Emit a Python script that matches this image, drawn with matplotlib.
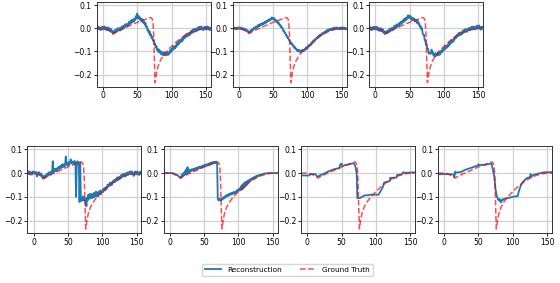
import numpy as np
import matplotlib
matplotlib.use('Agg')
from matplotlib import pyplot as plt

# ===== data =====
x_dense = np.arange(-9, 158)  # sample positions for the dense reconstructions

gt_x = [-9, 0, 5, 10, 15, 16, 20, 30, 40, 50, 60, 65, 68, 70, 71, 72, 73, 74, 75, 76,
        77, 78, 80, 83, 86, 90, 95, 100, 105, 110, 115, 120, 125, 130, 135, 140, 145, 150, 157]
gt_y = [0.0, 0.0, -0.003, -0.010, -0.019, -0.021, -0.014, 0.000, 0.013, 0.026,
        0.037, 0.042, 0.046, 0.046, 0.044, 0.038, 0.022, -0.030, -0.140, -0.235,
        -0.215, -0.195, -0.168, -0.143, -0.127, -0.110, -0.093, -0.078, -0.064, -0.051,
        -0.040, -0.030, -0.022, -0.015, -0.009, -0.005, -0.002, 0.0, 0.0]

rec_t1 = [0.006, -0.005, 0.008, -0.004, 0.005, -0.007, 0.003, -0.006, 0.007,
          0.006, -0.005, 0.008, -0.004, 0.005, -0.007, 0.003, -0.008, 0.004, -0.010,
          -0.001, -0.014, -0.003, -0.017, -0.011, -0.025, -0.013, -0.021, -0.006, -0.017,
          -0.004, -0.013, 0.001, -0.009, 0.001, -0.010, 0.002, -0.006, 0.009, -0.002,
          0.011, 0.002, 0.017, 0.007, 0.018, 0.008, 0.020, 0.013, 0.028, 0.018,
          0.031, 0.022, 0.037, 0.027, 0.039, 0.029, 0.042, 0.036, 0.053, 0.043,
          0.064, 0.043, 0.054, 0.040, 0.047, 0.033, 0.041, 0.029, 0.039, 0.024,
          0.031, 0.015, 0.023, 0.005, 0.008, -0.010, -0.006, -0.021, -0.013, -0.031,
          -0.026, -0.043, -0.036, -0.054, -0.051, -0.070, -0.067, -0.083, -0.077, -0.095,
          -0.089, -0.103, -0.092, -0.106, -0.099, -0.113, -0.105, -0.115, -0.103, -0.116,
          -0.106, -0.117, -0.104, -0.115, -0.105, -0.115, -0.103, -0.110, -0.094, -0.103,
          -0.089, -0.097, -0.081, -0.090, -0.078, -0.087, -0.074, -0.080, -0.064, -0.073,
          -0.059, -0.067, -0.051, -0.060, -0.048, -0.057, -0.044, -0.050, -0.034, -0.043,
          -0.029, -0.038, -0.023, -0.033, -0.022, -0.032, -0.020, -0.027, -0.012, -0.022,
          -0.009, -0.018, -0.003, -0.014, -0.003, -0.014, -0.002, -0.010, 0.004, -0.007,
          0.006, -0.005, 0.008, -0.004, 0.005, -0.007, 0.003, -0.006, 0.007, -0.005,
          0.006, -0.005, 0.008, -0.004, 0.005, -0.007, 0.003, -0.006]

rec_t2 = [0.003, -0.003, 0.004, -0.002, 0.003, -0.004, 0.002, -0.003, 0.004,
          0.003, -0.003, 0.004, -0.002, 0.003, -0.005, 0.000, -0.006, 0.000, -0.008,
          -0.004, -0.012, -0.007, -0.015, -0.012, -0.021, -0.014, -0.017, -0.007, -0.012,
          -0.003, -0.007, 0.002, -0.002, 0.005, 0.000, 0.008, 0.005, 0.014, 0.008,
          0.016, 0.011, 0.020, 0.015, 0.022, 0.016, 0.024, 0.020, 0.029, 0.023,
          0.031, 0.026, 0.035, 0.031, 0.038, 0.033, 0.041, 0.038, 0.047, 0.041,
          0.046, 0.038, 0.043, 0.034, 0.037, 0.027, 0.030, 0.022, 0.026, 0.015,
          0.017, 0.007, 0.010, 0.000, 0.000, -0.012, -0.011, -0.021, -0.019, -0.031,
          -0.030, -0.041, -0.039, -0.050, -0.050, -0.062, -0.060, -0.069, -0.066, -0.077,
          -0.075, -0.085, -0.081, -0.090, -0.088, -0.097, -0.093, -0.100, -0.094, -0.102,
          -0.096, -0.102, -0.094, -0.099, -0.093, -0.098, -0.090, -0.093, -0.084, -0.089,
          -0.081, -0.084, -0.074, -0.077, -0.069, -0.073, -0.064, -0.066, -0.056, -0.060,
          -0.051, -0.054, -0.044, -0.047, -0.039, -0.043, -0.034, -0.037, -0.028, -0.033,
          -0.025, -0.029, -0.020, -0.024, -0.017, -0.022, -0.014, -0.017, -0.008, -0.013,
          -0.006, -0.011, -0.003, -0.008, -0.002, -0.008, -0.001, -0.005, 0.003, -0.003,
          0.003, -0.003, 0.004, -0.002, 0.003, -0.004, 0.002, -0.003, 0.004, -0.003,
          0.003, -0.003, 0.004, -0.002, 0.003, -0.004, 0.002, -0.003]

rec_t3 = [-0.004, 0.007, -0.006, 0.003, -0.008, 0.005, -0.003, 0.006, -0.005,
          0.006, -0.005, 0.007, -0.006, 0.003, -0.010, -0.001, -0.011, 0.001, -0.012,
          -0.013, -0.004, -0.019, -0.012, -0.025, -0.014, -0.022, -0.012, -0.021, -0.010,
          -0.006, -0.015, 0.000, -0.010, 0.001, -0.009, 0.003, -0.004, 0.011, 0.001,
          0.004, 0.017, 0.006, 0.017, 0.008, 0.023, 0.017, 0.028, 0.019, 0.030,
          0.034, 0.025, 0.041, 0.032, 0.044, 0.035, 0.048, 0.042, 0.057, 0.046,
          0.046, 0.055, 0.040, 0.047, 0.034, 0.045, 0.035, 0.042, 0.029, 0.036,
          0.036, 0.022, 0.032, 0.017, 0.022, 0.006, 0.011, -0.004, 0.001, -0.020,
          -0.029, -0.028, -0.051, -0.052, -0.073, -0.070, -0.088, -0.089, -0.110, -0.109,
          -0.106, -0.110, -0.092, -0.108, -0.103, -0.119, -0.111, -0.121, -0.108, -0.119,
          -0.117, -0.105, -0.116, -0.105, -0.114, -0.099, -0.105, -0.094, -0.102, -0.090,
          -0.085, -0.093, -0.077, -0.086, -0.074, -0.083, -0.070, -0.076, -0.060, -0.069,
          -0.065, -0.051, -0.061, -0.049, -0.057, -0.041, -0.046, -0.034, -0.042, -0.030,
          -0.025, -0.034, -0.019, -0.029, -0.018, -0.028, -0.016, -0.023, -0.008, -0.018,
          -0.015, -0.003, -0.015, -0.005, -0.015, -0.001, -0.008, 0.002, -0.008, 0.002,
          0.006, -0.005, 0.008, -0.004, 0.006, -0.005, 0.006, -0.002, 0.012, 0.001,
          0.004, 0.013, -0.002, 0.006, -0.006, 0.007, -0.002, 0.007]

rec_b1 = [0.006, -0.005, 0.008, -0.004, 0.005, -0.007, 0.003, -0.006, 0.007,
          0.004, -0.003, 0.005, -0.002, 0.003, -0.014, 0.003, -0.004, 0.004, -0.009,
          -0.010, -0.001, -0.016, -0.010, -0.024, -0.014, -0.021, -0.010, -0.018, -0.007,
          -0.003, -0.012, 0.003, -0.007, 0.004, -0.006, 0.006, -0.001, 0.050, 0.004,
          0.007, 0.019, 0.008, 0.018, 0.009, 0.023, 0.017, 0.027, 0.018, 0.028,
          0.032, 0.022, 0.037, 0.026, 0.037, 0.026, 0.037, 0.070, 0.043, 0.032,
          0.034, 0.046, 0.034, 0.044, 0.058, 0.047, 0.040, 0.049, 0.039, 0.048,
          0.051, 0.040, -0.100, 0.041, 0.050, 0.037, 0.045, -0.122, 0.045, -0.118,
          -0.104, -0.116, -0.098, -0.114, -0.103, -0.120, -0.107, -0.140, -0.103, -0.115,
          -0.090, -0.109, -0.088, -0.105, -0.088, -0.106, -0.089, -0.103, -0.083, -0.100,
          -0.096, -0.078, -0.097, -0.082, -0.098, -0.078, -0.089, -0.074, -0.089, -0.075,
          -0.073, -0.081, -0.065, -0.074, -0.062, -0.071, -0.058, -0.064, -0.048, -0.057,
          -0.054, -0.041, -0.052, -0.041, -0.050, -0.035, -0.041, -0.030, -0.039, -0.028,
          -0.024, -0.033, -0.018, -0.028, -0.017, -0.027, -0.015, -0.022, -0.007, -0.017,
          -0.014, -0.002, -0.014, -0.004, -0.014, 0.000, -0.007, 0.003, -0.007, 0.003,
          0.006, -0.005, 0.008, -0.004, 0.005, -0.007, -0.012, -0.006, 0.007, -0.005,
          -0.004, 0.007, -0.006, 0.003, -0.008, 0.005, -0.003, 0.006]

rec_b2 = [0.000, 0.000, 0.000, 0.000, 0.000, 0.000, 0.000, 0.000, 0.000,
          0.000, 0.000, 0.000, 0.000, 0.000, -0.001, -0.002, -0.003, -0.004, -0.006,
          -0.007, -0.009, -0.011, -0.013, -0.016, -0.018, -0.021, -0.015, -0.006, -0.012,
          0.000, -0.010, 0.008, -0.006, 0.016, -0.002, 0.025, 0.001, 0.013, 0.004,
          0.013, 0.008, 0.016, 0.011, 0.017, 0.011, 0.018, 0.014, 0.022, 0.016,
          0.023, 0.018, 0.026, 0.021, 0.027, 0.021, 0.028, 0.024, 0.032, 0.026,
          0.033, 0.028, 0.036, 0.031, 0.037, 0.031, 0.038, 0.034, 0.042, 0.036,
          0.043, 0.038, 0.046, 0.041, 0.047, 0.041, 0.047, 0.042, 0.048, 0.040,
          -0.107, -0.115, -0.109, -0.115, -0.109, -0.115, -0.108, -0.111, -0.102, -0.107,
          -0.099, -0.103, -0.094, -0.098, -0.091, -0.096, -0.089, -0.093, -0.085, -0.091,
          -0.084, -0.089, -0.081, -0.086, -0.080, -0.086, -0.078, -0.081, -0.072, -0.077,
          -0.069, -0.074, -0.064, -0.072, -0.055, -0.070, -0.048, -0.066, -0.042, -0.060,
          -0.038, -0.054, -0.035, -0.048, -0.031, -0.040, -0.028, -0.034, -0.025, -0.029,
          -0.021, -0.026, -0.018, -0.022, -0.015, -0.019, -0.012, -0.016, -0.010, -0.013,
          -0.009, -0.010, -0.007, -0.008, -0.005, -0.006, -0.004, -0.004, -0.002, -0.003,
          -0.001, -0.001, 0.000, 0.000, 0.000, 0.000, 0.000, 0.000, 0.000, 0.000,
          0.000, 0.000, 0.000, 0.000, 0.000, 0.000, 0.000, 0.000]

b3_x = [-9, 3, 5, 12, 14, 17, 19, 22, 26, 30, 35, 40, 47, 48, 50, 51, 53, 55, 58, 62,
        65, 68, 70, 72, 73, 74, 78, 79, 82, 83, 90, 91, 104, 107, 110, 112, 120, 121, 130, 131,
        137, 140, 141, 150, 157]
b3_y = [-0.010, -0.010, -0.004, -0.004, -0.013, -0.014, -0.008, -0.006, 0.000, 0.006,
        0.012, 0.017, 0.021, 0.036, 0.040, 0.031, 0.031, 0.034, 0.035, 0.038,
        0.040, 0.041, 0.030, 0.000, -0.105, -0.106, -0.104, -0.100, -0.098, -0.094,
        -0.093, -0.091, -0.091, -0.075, -0.060, -0.040, -0.034, -0.020, -0.019, -0.008,
        -0.006, 0.004, 0.001, 0.002, 0.003]

b4_x = [-9, 5, 14, 15, 16, 17, 25, 30, 35, 40, 45, 49, 50, 52, 55, 60, 65, 69, 71, 73,
        75, 77, 79, 80, 81, 82, 83, 85, 86, 88, 92, 96, 100, 107, 109, 112, 115, 120, 125, 126,
        127, 130, 135, 140, 145, 157]
b4_y = [-0.005, -0.004, -0.006, -0.016, 0.006, 0.002, 0.005, 0.013, 0.018, 0.023,
        0.028, 0.032, 0.037, 0.033, 0.035, 0.035, 0.038, 0.040, 0.014, -0.014,
        -0.070, -0.100, -0.113, -0.108, -0.118, -0.112, -0.124, -0.110, -0.113, -0.108,
        -0.106, -0.103, -0.100, -0.097, -0.075, -0.050, -0.036, -0.022, -0.017, -0.004,
        -0.015, -0.008, -0.004, 0.000, 0.003, 0.004]

panels = [
    (x_dense, rec_t1), (x_dense, rec_t2), (x_dense, rec_t3),
    (x_dense, rec_b1), (x_dense, rec_b2), (b3_x, b3_y), (b4_x, b4_y),
]

# ===== layout (figure fractions) =====
top_left = [0.1727, 0.4152, 0.659]
bot_left = [0.0488, 0.2920, 0.5375, 0.7820]
ax_w = 0.2036
positions = [[l, 0.694, ax_w, 0.299] for l in top_left] + \
            [[l, 0.177, ax_w, 0.307] for l in bot_left]

fig = plt.figure(figsize=(5.6, 2.83), dpi=100)
for (px, py), pos in zip(panels, positions):
    ax = fig.add_axes(pos)
    ax.plot(px, py, color='#1f77b4', lw=1.3, label='Reconstruction')
    ax.plot(gt_x, gt_y, '--', color='red', alpha=0.7, lw=1.1, label='Ground Truth')
    ax.set_xlim(-9, 157)
    ax.set_ylim(-0.252, 0.114)
    ax.set_xticks([0, 50, 100, 150])
    ax.set_yticks([-0.2, -0.1, 0.0, 0.1])
    ax.grid(True, color='#d0d0d0', lw=0.9)
    ax.tick_params(labelsize=5.5, length=2, width=0.6, pad=1.5)
    for s in ax.spines.values():
        s.set_linewidth(0.7)
        s.set_color('#333333')

handles, labels = ax.get_legend_handles_labels()
fig.legend(handles, labels, loc='center', bbox_to_anchor=(0.513, 0.046), ncol=2,
           fontsize=5.3, frameon=True, handlelength=2.2, columnspacing=2.5)

plt.savefig('out.png', dpi=100)
